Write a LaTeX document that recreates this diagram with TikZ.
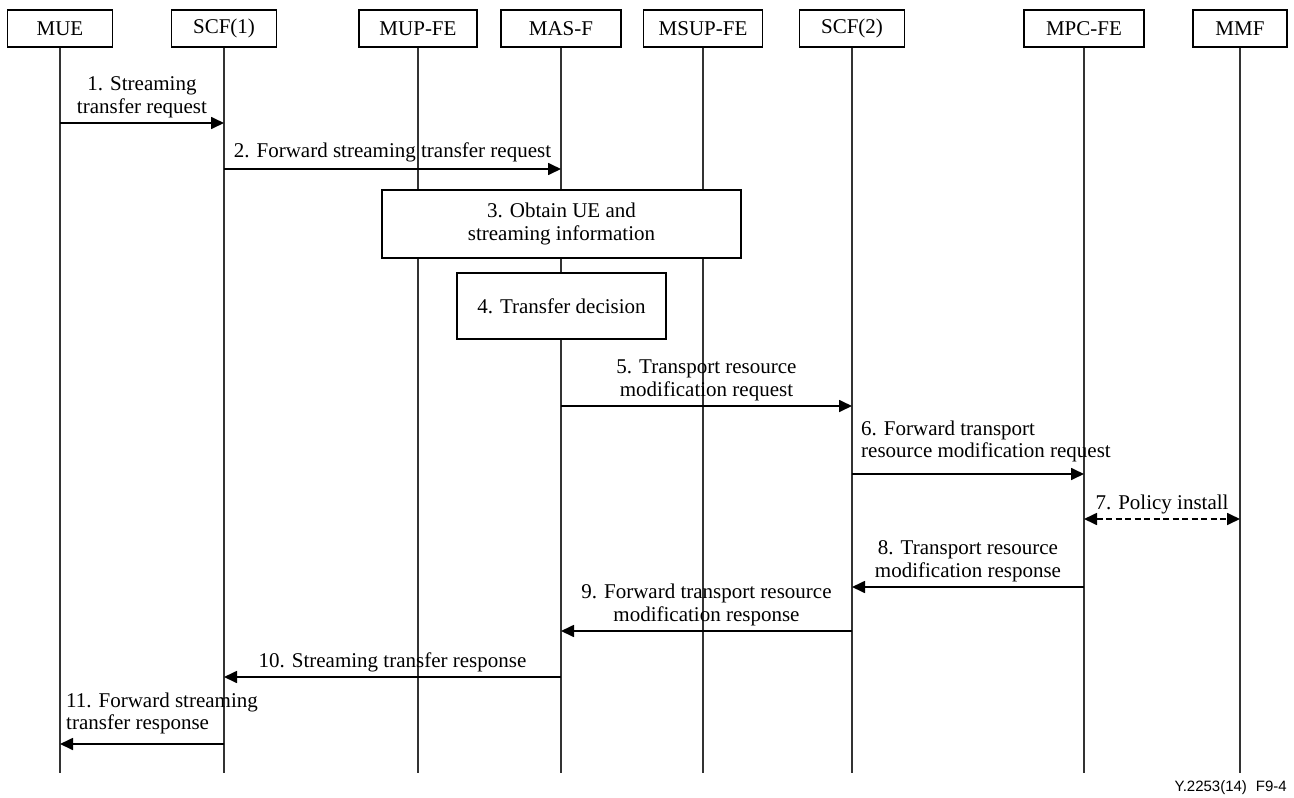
\documentclass[tikz,border=0pt]{standalone}
\usepackage{fontspec}
\setmainfont{Liberation Serif}
\newfontfamily\footfont{Liberation Sans}
\usetikzlibrary{arrows.meta}
\begin{document}
\begin{tikzpicture}[x=1pt,y=-1pt,
 every node/.style={font=\fontsize{21}{22.5}\selectfont},
 head/.style={draw, line width=1.4pt, minimum height=37pt, inner sep=0pt},
 life/.style={line width=1.5pt, black!80},
 tipa/.tip={Triangle[length=13pt,width=12pt]},
 msg/.style={line width=1.7pt, -tipa},
 dmsg/.style={line width=1.7pt, tipa-tipa, dash pattern=on 6pt off 3.5pt},
 lbl/.style={align=center, inner sep=0pt, anchor=south},
 lbll/.style={align=left, inner sep=0pt, anchor=south west},
 act/.style={draw, fill=white, line width=1.4pt, align=center, inner sep=0pt}]
\useasboundingbox (0,0) rectangle (1294,798);
\fill[white] (0,0) rectangle (1294,798);
% header boxes
\node[head, minimum width=105pt] (MUE) at (60,28.5) {MUE};
\node[head, minimum width=105pt] (SCF1) at (224,28.5) {SCF(1)};
\node[head, minimum width=118pt] (MUP) at (418,28.5) {MUP-FE};
\node[head, minimum width=120pt] (MAS) at (561,28.5) {MAS-F};
\node[head, minimum width=119pt] (MSUP) at (703,28.5) {MSUP-FE};
\node[head, minimum width=105pt] (SCF2) at (852,28.5) {SCF(2)};
\node[head, minimum width=120pt] (MPC) at (1084,28.5) {MPC-FE};
\node[head, minimum width=94pt] (MMF) at (1240,28.5) {MMF};
% lifelines
\foreach \n in {MUE,SCF1,MUP,MAS,MSUP,SCF2,MPC,MMF}
  \draw[life] (\n.south) -- (\n.south |- 0,773);
% activity boxes
\node[act, minimum width=359pt, minimum height=68pt] (b3) at (561.5,224) {3. Obtain UE and\\streaming information};
\node[act, minimum width=209pt, minimum height=66pt] (b4) at (561.5,306) {4. Transfer decision};
% messages
\draw[msg] (MUE |- 0,123) -- (SCF1 |- 0,123);
\node[lbl] (t1) at (142,118) {1. Streaming\\transfer request};
\draw[msg] (SCF1 |- 0,169) -- (MAS |- 0,169);
\node[lbl] (t2) at (392.5,162.5) {2. Forward streaming transfer request};
\draw[msg] (MAS |- 0,406) -- (SCF2 |- 0,406);
\node[lbl] (t5) at (706.5,401) {5. Transport resource\\modification request};
\draw[msg] (SCF2 |- 0,474) -- (MPC |- 0,474);
\node[lbll] (t6) at (861,462.5) {6. Forward transport\\resource modification request};
\draw[dmsg] (MPC |- 0,519) -- (MMF |- 0,519);
\node[lbl] (t7) at (1162,514) {7. Policy install};
\draw[msg] (MPC |- 0,587) -- (SCF2 |- 0,587);
\node[lbl] (t8) at (968,582) {8. Transport resource\\modification response};
\draw[msg] (SCF2 |- 0,631) -- (MAS |- 0,631);
\node[lbl] (t9) at (706.5,626) {9. Forward transport resource\\modification response};
\draw[msg] (MAS |- 0,677) -- (SCF1 |- 0,677);
\node[lbl] (t10) at (392.5,672) {10. Streaming transfer response};
\draw[msg] (SCF1 |- 0,744) -- (MUE |- 0,744);
\node[lbll] (t11) at (66,734.5) {11. Forward streaming\\transfer response};
% footer
\node[font=\footfont\fontsize{15}{17}\selectfont, anchor=east, inner sep=0pt] (ft) at (1287,788) {Y.2253(14)\hspace{0.6em}F9-4};
\end{tikzpicture}
\end{document}
